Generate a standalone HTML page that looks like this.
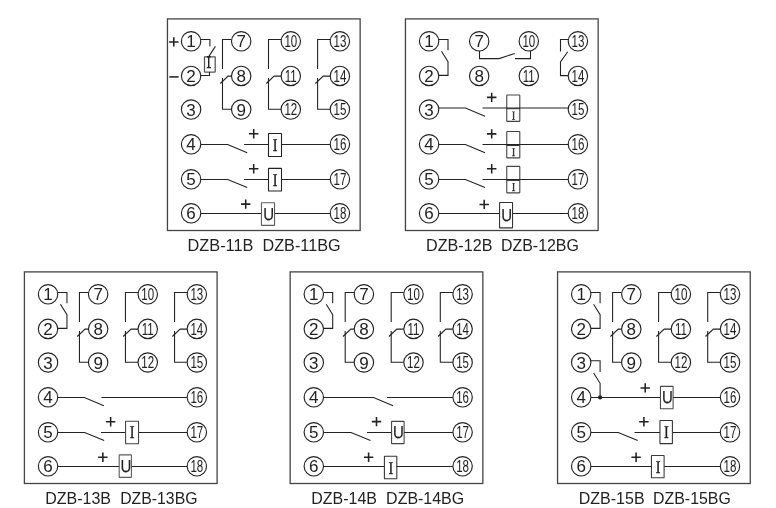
<!DOCTYPE html>
<html><head><meta charset="utf-8"><title>DZB wiring</title>
<style>
html,body{margin:0;padding:0;background:#fff;}
body{width:776px;height:508px;overflow:hidden;font-family:"Liberation Sans",sans-serif;}
svg{display:block;will-change:transform;}
svg text{font-family:"Liberation Sans",sans-serif;}
svg text.sf{font-family:"Liberation Serif",serif;}
</style></head>
<body>
<svg width="776" height="508" viewBox="0 0 776 508">
<rect width="776" height="508" fill="#fff"/>
<rect x="167.45" y="18.90" width="192.7" height="211.6" stroke="#444" stroke-width="1.3" fill="none"/>
<path d="M231.50 39.50 L222.50 39.50 L222.50 69.00" stroke="#222" stroke-width="1.08" fill="none"/>
<path d="M231.50 76.10 L228.10 76.10 L220.30 83.50" stroke="#222" stroke-width="1.08" fill="none"/>
<path d="M222.50 77.90 L222.50 109.30 L231.50 109.30" stroke="#222" stroke-width="1.08" fill="none"/>
<path d="M281.10 39.50 L268.50 39.50 L268.50 69.00" stroke="#222" stroke-width="1.08" fill="none"/>
<path d="M281.10 76.10 L274.10 76.10 L266.30 83.50" stroke="#222" stroke-width="1.08" fill="none"/>
<path d="M268.50 77.90 L268.50 109.30 L281.10 109.30" stroke="#222" stroke-width="1.08" fill="none"/>
<path d="M330.20 39.50 L317.60 39.50 L317.60 69.00" stroke="#222" stroke-width="1.08" fill="none"/>
<path d="M330.20 76.10 L323.20 76.10 L315.40 83.50" stroke="#222" stroke-width="1.08" fill="none"/>
<path d="M317.60 77.90 L317.60 109.30 L330.20 109.30" stroke="#222" stroke-width="1.08" fill="none"/>
<path d="M200.80 39.50 L209.90 39.50 L209.90 46.40" stroke="#222" stroke-width="1.08" fill="none"/>
<path d="M215.40 46.40 L208.70 56.60" stroke="#222" stroke-width="1.08" fill="none"/>
<rect x="204.50" y="56.80" width="10.70" height="15.20" rx="0.2" stroke="#555" stroke-width="1.25" fill="#fff"/>
<path d="M208.7 56.4 V67.8 M206.8 56.7 H210.7 M206.8 67.6 H211.0" stroke="#222" stroke-width="1.45" fill="none"/>
<path d="M209.50 72.00 L209.50 75.50 L200.80 75.50" stroke="#222" stroke-width="1.08" fill="none"/>
<path d="M169.10 41.90 H178.50 M173.80 37.20 V46.60" stroke="#222" stroke-width="1.55" fill="none"/>
<path d="M169.3 76.9 H178.6" stroke="#222" stroke-width="1.55"/>
<path d="M200.80 144.45 L227.70 144.45 L247.20 152.65" stroke="#222" stroke-width="1.08" fill="none"/>
<path d="M244.10 144.45 L330.20 144.45" stroke="#222" stroke-width="1.08" fill="none"/>
<rect x="268.50" y="133.50" width="13.00" height="23.00" rx="0.3" stroke="#222" stroke-width="1.08" fill="#fff"/>
<text transform="translate(275.10 150.90) rotate(0.03) scale(0.8 1)" class="sf" font-size="17.8" text-anchor="middle" fill="#222" stroke="#222" stroke-width="0.4">I</text>
<path d="M249.00 133.80 H258.40 M253.70 129.10 V138.50" stroke="#222" stroke-width="1.55" fill="none"/>
<path d="M200.80 179.42 L227.70 179.42 L247.20 187.62" stroke="#222" stroke-width="1.08" fill="none"/>
<path d="M244.10 179.42 L330.20 179.42" stroke="#222" stroke-width="1.08" fill="none"/>
<rect x="268.50" y="168.35" width="13.00" height="22.65" rx="0.3" stroke="#222" stroke-width="1.08" fill="#fff"/>
<text transform="translate(275.10 186.00) rotate(0.03) scale(0.8 1)" class="sf" font-size="17.8" text-anchor="middle" fill="#222" stroke="#222" stroke-width="0.4">I</text>
<path d="M249.00 168.70 H258.40 M253.70 164.00 V173.40" stroke="#222" stroke-width="1.55" fill="none"/>
<path d="M200.80 213.42 L330.20 213.42" stroke="#222" stroke-width="1.08" fill="none"/>
<rect x="261.45" y="202.80" width="13.10" height="22.55" rx="0.3" stroke="#5c5c5c" stroke-width="1.08" fill="#fff"/>
<text transform="translate(268.60 219.75) rotate(0.03) scale(0.86 1)" font-size="17.5" text-anchor="middle" fill="#222" stroke="#222" stroke-width="0.15">U</text>
<path d="M241.00 204.10 H250.40 M245.70 199.40 V208.80" stroke="#222" stroke-width="1.55" fill="none"/>
<circle cx="191.10" cy="41.30" r="9.7" stroke="#222" stroke-width="1.15" fill="#fff"/>
<text x="191.10" y="47.30" font-size="17" text-anchor="middle" fill="#222">1</text>
<circle cx="191.10" cy="75.90" r="9.7" stroke="#222" stroke-width="1.15" fill="#fff"/>
<text x="191.10" y="81.90" font-size="17" text-anchor="middle" fill="#222">2</text>
<circle cx="191.10" cy="109.50" r="9.7" stroke="#222" stroke-width="1.15" fill="#fff"/>
<text x="191.10" y="115.50" font-size="17" text-anchor="middle" fill="#222">3</text>
<circle cx="191.10" cy="144.30" r="9.7" stroke="#222" stroke-width="1.15" fill="#fff"/>
<text x="191.10" y="150.30" font-size="17" text-anchor="middle" fill="#222">4</text>
<circle cx="191.10" cy="179.30" r="9.7" stroke="#222" stroke-width="1.15" fill="#fff"/>
<text x="191.10" y="185.30" font-size="17" text-anchor="middle" fill="#222">5</text>
<circle cx="191.10" cy="213.30" r="9.7" stroke="#222" stroke-width="1.15" fill="#fff"/>
<text x="191.10" y="219.30" font-size="17" text-anchor="middle" fill="#222">6</text>
<circle cx="241.20" cy="41.30" r="9.7" stroke="#222" stroke-width="1.15" fill="#fff"/>
<text x="241.20" y="47.30" font-size="17" text-anchor="middle" fill="#222">7</text>
<circle cx="241.20" cy="75.90" r="9.7" stroke="#222" stroke-width="1.15" fill="#fff"/>
<text x="241.20" y="81.90" font-size="17" text-anchor="middle" fill="#222">8</text>
<circle cx="241.20" cy="109.50" r="9.7" stroke="#222" stroke-width="1.15" fill="#fff"/>
<text x="241.20" y="115.50" font-size="17" text-anchor="middle" fill="#222">9</text>
<circle cx="290.80" cy="41.30" r="9.7" stroke="#222" stroke-width="1.15" fill="#fff"/>
<text transform="translate(290.80 47.20) scale(0.70 1)" font-size="16.5" text-anchor="middle" fill="#222">10</text>
<circle cx="290.80" cy="75.90" r="9.7" stroke="#222" stroke-width="1.15" fill="#fff"/>
<text transform="translate(290.80 81.80) scale(0.70 1)" font-size="16.5" text-anchor="middle" fill="#222">11</text>
<circle cx="290.80" cy="109.50" r="9.7" stroke="#222" stroke-width="1.15" fill="#fff"/>
<text transform="translate(290.80 115.40) scale(0.70 1)" font-size="16.5" text-anchor="middle" fill="#222">12</text>
<circle cx="339.90" cy="41.30" r="9.7" stroke="#222" stroke-width="1.15" fill="#fff"/>
<text transform="translate(339.90 47.20) scale(0.70 1)" font-size="16.5" text-anchor="middle" fill="#222">13</text>
<circle cx="339.90" cy="75.90" r="9.7" stroke="#222" stroke-width="1.15" fill="#fff"/>
<text transform="translate(339.90 81.80) scale(0.70 1)" font-size="16.5" text-anchor="middle" fill="#222">14</text>
<circle cx="339.90" cy="109.50" r="9.7" stroke="#222" stroke-width="1.15" fill="#fff"/>
<text transform="translate(339.90 115.40) scale(0.70 1)" font-size="16.5" text-anchor="middle" fill="#222">15</text>
<circle cx="339.90" cy="144.30" r="9.7" stroke="#222" stroke-width="1.15" fill="#fff"/>
<text transform="translate(339.90 150.20) scale(0.70 1)" font-size="16.5" text-anchor="middle" fill="#222">16</text>
<circle cx="339.90" cy="179.30" r="9.7" stroke="#222" stroke-width="1.15" fill="#fff"/>
<text transform="translate(339.90 185.20) scale(0.70 1)" font-size="16.5" text-anchor="middle" fill="#222">17</text>
<circle cx="339.90" cy="213.30" r="9.7" stroke="#222" stroke-width="1.15" fill="#fff"/>
<text transform="translate(339.90 219.20) scale(0.70 1)" font-size="16.5" text-anchor="middle" fill="#222">18</text>
<text x="187.60" y="250.60" font-size="16.8" textLength="65.80" lengthAdjust="spacingAndGlyphs" fill="#222">DZB-11B</text>
<text x="262.50" y="250.60" font-size="16.8" textLength="78.10" lengthAdjust="spacingAndGlyphs" fill="#222">DZB-11BG</text>
<rect x="405.45" y="18.90" width="192.7" height="211.6" stroke="#444" stroke-width="1.3" fill="none"/>
<path d="M438.80 39.50 L448.00 39.50 L448.00 50.30" stroke="#222" stroke-width="1.08" fill="none"/>
<path d="M441.50 51.30 L448.00 61.60 L448.00 75.40 L438.80 75.40" stroke="#222" stroke-width="1.08" fill="none"/>
<path d="M479.50 51.00 L479.50 58.60 L499.10 58.60 L514.80 53.40" stroke="#222" stroke-width="1.08" fill="none"/>
<path d="M530.50 51.00 L530.50 58.60 L515.00 58.60" stroke="#222" stroke-width="1.08" fill="none"/>
<path d="M568.20 39.50 L560.50 39.50 L560.50 51.50" stroke="#222" stroke-width="1.08" fill="none"/>
<path d="M567.70 51.80 L560.50 61.90 L560.50 75.60 L568.20 75.60" stroke="#222" stroke-width="1.08" fill="none"/>
<path d="M438.80 107.95 L465.40 107.95 L485.00 116.15" stroke="#222" stroke-width="1.08" fill="none"/>
<rect x="506.76" y="94.95" width="13.04" height="26.45" rx="0.5" stroke="#444" stroke-width="1.1" fill="#fff"/>
<path d="M482.50 107.95 L568.20 107.95" stroke="#222" stroke-width="1.08" fill="none"/>
<path d="M506.76 108.70 H519.80" stroke="#333" stroke-width="1.05"/>
<text transform="translate(513.50 119.45) rotate(0.03) scale(0.9 1)" class="sf" font-size="12" text-anchor="middle" fill="#333" stroke="#333" stroke-width="0.32">I</text>
<path d="M487.00 97.35 H496.40 M491.70 92.65 V102.05" stroke="#222" stroke-width="1.55" fill="none"/>
<path d="M438.80 144.45 L465.40 144.45 L485.00 152.65" stroke="#222" stroke-width="1.08" fill="none"/>
<rect x="506.76" y="131.45" width="13.04" height="26.45" rx="0.5" stroke="#444" stroke-width="1.1" fill="#fff"/>
<path d="M482.50 144.45 L568.20 144.45" stroke="#222" stroke-width="1.08" fill="none"/>
<path d="M506.76 145.45 H519.80" stroke="#333" stroke-width="1.05"/>
<text transform="translate(513.50 155.95) rotate(0.03) scale(0.9 1)" class="sf" font-size="12" text-anchor="middle" fill="#333" stroke="#333" stroke-width="0.32">I</text>
<path d="M487.00 133.85 H496.40 M491.70 129.15 V138.55" stroke="#222" stroke-width="1.55" fill="none"/>
<path d="M438.80 179.42 L465.40 179.42 L485.00 187.62" stroke="#222" stroke-width="1.08" fill="none"/>
<rect x="506.76" y="166.42" width="13.04" height="26.45" rx="0.5" stroke="#444" stroke-width="1.1" fill="#fff"/>
<path d="M482.50 179.42 L568.20 179.42" stroke="#222" stroke-width="1.08" fill="none"/>
<path d="M506.76 180.42 H519.80" stroke="#333" stroke-width="1.05"/>
<text transform="translate(513.50 190.92) rotate(0.03) scale(0.9 1)" class="sf" font-size="12" text-anchor="middle" fill="#333" stroke="#333" stroke-width="0.32">I</text>
<path d="M487.00 168.82 H496.40 M491.70 164.12 V173.52" stroke="#222" stroke-width="1.55" fill="none"/>
<path d="M438.80 213.42 L568.20 213.42" stroke="#222" stroke-width="1.08" fill="none"/>
<rect x="499.57" y="202.50" width="12.98" height="25.40" rx="0.3" stroke="#333" stroke-width="1.08" fill="#fff"/>
<text transform="translate(506.75 221.05) rotate(0.03) scale(0.86 1)" font-size="17.5" text-anchor="middle" fill="#222" stroke="#222" stroke-width="0.15">U</text>
<path d="M479.50 204.40 H488.90 M484.20 199.70 V209.10" stroke="#222" stroke-width="1.55" fill="none"/>
<circle cx="429.10" cy="41.30" r="9.7" stroke="#222" stroke-width="1.15" fill="#fff"/>
<text x="429.10" y="47.30" font-size="17" text-anchor="middle" fill="#222">1</text>
<circle cx="429.10" cy="75.90" r="9.7" stroke="#222" stroke-width="1.15" fill="#fff"/>
<text x="429.10" y="81.90" font-size="17" text-anchor="middle" fill="#222">2</text>
<circle cx="429.10" cy="109.50" r="9.7" stroke="#222" stroke-width="1.15" fill="#fff"/>
<text x="429.10" y="115.50" font-size="17" text-anchor="middle" fill="#222">3</text>
<circle cx="429.10" cy="144.30" r="9.7" stroke="#222" stroke-width="1.15" fill="#fff"/>
<text x="429.10" y="150.30" font-size="17" text-anchor="middle" fill="#222">4</text>
<circle cx="429.10" cy="179.30" r="9.7" stroke="#222" stroke-width="1.15" fill="#fff"/>
<text x="429.10" y="185.30" font-size="17" text-anchor="middle" fill="#222">5</text>
<circle cx="429.10" cy="213.30" r="9.7" stroke="#222" stroke-width="1.15" fill="#fff"/>
<text x="429.10" y="219.30" font-size="17" text-anchor="middle" fill="#222">6</text>
<circle cx="479.20" cy="41.30" r="9.7" stroke="#222" stroke-width="1.15" fill="#fff"/>
<text x="479.20" y="47.30" font-size="17" text-anchor="middle" fill="#222">7</text>
<circle cx="479.20" cy="75.90" r="9.7" stroke="#222" stroke-width="1.15" fill="#fff"/>
<text x="479.20" y="81.90" font-size="17" text-anchor="middle" fill="#222">8</text>
<circle cx="528.80" cy="41.30" r="9.7" stroke="#222" stroke-width="1.15" fill="#fff"/>
<text transform="translate(528.80 47.20) scale(0.70 1)" font-size="16.5" text-anchor="middle" fill="#222">10</text>
<circle cx="528.80" cy="75.90" r="9.7" stroke="#222" stroke-width="1.15" fill="#fff"/>
<text transform="translate(528.80 81.80) scale(0.70 1)" font-size="16.5" text-anchor="middle" fill="#222">11</text>
<circle cx="577.90" cy="41.30" r="9.7" stroke="#222" stroke-width="1.15" fill="#fff"/>
<text transform="translate(577.90 47.20) scale(0.70 1)" font-size="16.5" text-anchor="middle" fill="#222">13</text>
<circle cx="577.90" cy="75.90" r="9.7" stroke="#222" stroke-width="1.15" fill="#fff"/>
<text transform="translate(577.90 81.80) scale(0.70 1)" font-size="16.5" text-anchor="middle" fill="#222">14</text>
<circle cx="577.90" cy="109.50" r="9.7" stroke="#222" stroke-width="1.15" fill="#fff"/>
<text transform="translate(577.90 115.40) scale(0.70 1)" font-size="16.5" text-anchor="middle" fill="#222">15</text>
<circle cx="577.90" cy="144.30" r="9.7" stroke="#222" stroke-width="1.15" fill="#fff"/>
<text transform="translate(577.90 150.20) scale(0.70 1)" font-size="16.5" text-anchor="middle" fill="#222">16</text>
<circle cx="577.90" cy="179.30" r="9.7" stroke="#222" stroke-width="1.15" fill="#fff"/>
<text transform="translate(577.90 185.20) scale(0.70 1)" font-size="16.5" text-anchor="middle" fill="#222">17</text>
<circle cx="577.90" cy="213.30" r="9.7" stroke="#222" stroke-width="1.15" fill="#fff"/>
<text transform="translate(577.90 219.20) scale(0.70 1)" font-size="16.5" text-anchor="middle" fill="#222">18</text>
<text x="426.10" y="250.60" font-size="16.8" textLength="66.30" lengthAdjust="spacingAndGlyphs" fill="#222">DZB-12B</text>
<text x="501.00" y="250.60" font-size="16.8" textLength="77.90" lengthAdjust="spacingAndGlyphs" fill="#222">DZB-12BG</text>
<rect x="24.40" y="271.90" width="192.7" height="211.6" stroke="#444" stroke-width="1.3" fill="none"/>
<path d="M88.45 292.50 L79.45 292.50 L79.45 322.00" stroke="#222" stroke-width="1.08" fill="none"/>
<path d="M88.45 329.10 L85.05 329.10 L77.25 336.50" stroke="#222" stroke-width="1.08" fill="none"/>
<path d="M79.45 330.90 L79.45 362.30 L88.45 362.30" stroke="#222" stroke-width="1.08" fill="none"/>
<path d="M138.05 292.50 L125.45 292.50 L125.45 322.00" stroke="#222" stroke-width="1.08" fill="none"/>
<path d="M138.05 329.10 L131.05 329.10 L123.25 336.50" stroke="#222" stroke-width="1.08" fill="none"/>
<path d="M125.45 330.90 L125.45 362.30 L138.05 362.30" stroke="#222" stroke-width="1.08" fill="none"/>
<path d="M187.15 292.50 L174.55 292.50 L174.55 322.00" stroke="#222" stroke-width="1.08" fill="none"/>
<path d="M187.15 329.10 L180.15 329.10 L172.35 336.50" stroke="#222" stroke-width="1.08" fill="none"/>
<path d="M174.55 330.90 L174.55 362.30 L187.15 362.30" stroke="#222" stroke-width="1.08" fill="none"/>
<path d="M57.75 292.50 L66.95 292.50 L66.95 303.30" stroke="#222" stroke-width="1.08" fill="none"/>
<path d="M60.45 304.30 L66.95 314.60 L66.95 328.40 L57.75 328.40" stroke="#222" stroke-width="1.08" fill="none"/>
<path d="M57.75 397.45 L84.35 397.45 L103.85 405.65" stroke="#222" stroke-width="1.08" fill="none"/>
<path d="M101.45 397.45 L187.15 397.45" stroke="#222" stroke-width="1.08" fill="none"/>
<path d="M57.75 432.42 L84.65 432.42 L104.15 440.62" stroke="#222" stroke-width="1.08" fill="none"/>
<path d="M101.05 432.42 L187.15 432.42" stroke="#222" stroke-width="1.08" fill="none"/>
<rect x="125.57" y="421.17" width="12.98" height="22.53" rx="0.3" stroke="#444" stroke-width="1.08" fill="#fff"/>
<text transform="translate(132.06 438.30) rotate(0.03) scale(0.8 1)" class="sf" font-size="17.8" text-anchor="middle" fill="#222" stroke="#222" stroke-width="0.4">I</text>
<path d="M105.95 421.70 H115.35 M110.65 417.00 V426.40" stroke="#222" stroke-width="1.55" fill="none"/>
<path d="M57.75 466.42 L187.15 466.42" stroke="#222" stroke-width="1.08" fill="none"/>
<rect x="119.20" y="454.90" width="12.20" height="22.50" rx="0.3" stroke="#5c5c5c" stroke-width="1.08" fill="#fff"/>
<text transform="translate(125.90 472.15) rotate(0.03) scale(0.86 1)" font-size="17.5" text-anchor="middle" fill="#222" stroke="#222" stroke-width="0.15">U</text>
<path d="M98.15 457.30 H107.55 M102.85 452.60 V462.00" stroke="#222" stroke-width="1.55" fill="none"/>
<circle cx="48.05" cy="294.30" r="9.7" stroke="#222" stroke-width="1.15" fill="#fff"/>
<text x="48.05" y="300.30" font-size="17" text-anchor="middle" fill="#222">1</text>
<circle cx="48.05" cy="328.90" r="9.7" stroke="#222" stroke-width="1.15" fill="#fff"/>
<text x="48.05" y="334.90" font-size="17" text-anchor="middle" fill="#222">2</text>
<circle cx="48.05" cy="362.50" r="9.7" stroke="#222" stroke-width="1.15" fill="#fff"/>
<text x="48.05" y="368.50" font-size="17" text-anchor="middle" fill="#222">3</text>
<circle cx="48.05" cy="397.30" r="9.7" stroke="#222" stroke-width="1.15" fill="#fff"/>
<text x="48.05" y="403.30" font-size="17" text-anchor="middle" fill="#222">4</text>
<circle cx="48.05" cy="432.30" r="9.7" stroke="#222" stroke-width="1.15" fill="#fff"/>
<text x="48.05" y="438.30" font-size="17" text-anchor="middle" fill="#222">5</text>
<circle cx="48.05" cy="466.30" r="9.7" stroke="#222" stroke-width="1.15" fill="#fff"/>
<text x="48.05" y="472.30" font-size="17" text-anchor="middle" fill="#222">6</text>
<circle cx="98.15" cy="294.30" r="9.7" stroke="#222" stroke-width="1.15" fill="#fff"/>
<text x="98.15" y="300.30" font-size="17" text-anchor="middle" fill="#222">7</text>
<circle cx="98.15" cy="328.90" r="9.7" stroke="#222" stroke-width="1.15" fill="#fff"/>
<text x="98.15" y="334.90" font-size="17" text-anchor="middle" fill="#222">8</text>
<circle cx="98.15" cy="362.50" r="9.7" stroke="#222" stroke-width="1.15" fill="#fff"/>
<text x="98.15" y="368.50" font-size="17" text-anchor="middle" fill="#222">9</text>
<circle cx="147.75" cy="294.30" r="9.7" stroke="#222" stroke-width="1.15" fill="#fff"/>
<text transform="translate(147.75 300.20) scale(0.70 1)" font-size="16.5" text-anchor="middle" fill="#222">10</text>
<circle cx="147.75" cy="328.90" r="9.7" stroke="#222" stroke-width="1.15" fill="#fff"/>
<text transform="translate(147.75 334.80) scale(0.70 1)" font-size="16.5" text-anchor="middle" fill="#222">11</text>
<circle cx="147.75" cy="362.50" r="9.7" stroke="#222" stroke-width="1.15" fill="#fff"/>
<text transform="translate(147.75 368.40) scale(0.70 1)" font-size="16.5" text-anchor="middle" fill="#222">12</text>
<circle cx="196.85" cy="294.30" r="9.7" stroke="#222" stroke-width="1.15" fill="#fff"/>
<text transform="translate(196.85 300.20) scale(0.70 1)" font-size="16.5" text-anchor="middle" fill="#222">13</text>
<circle cx="196.85" cy="328.90" r="9.7" stroke="#222" stroke-width="1.15" fill="#fff"/>
<text transform="translate(196.85 334.80) scale(0.70 1)" font-size="16.5" text-anchor="middle" fill="#222">14</text>
<circle cx="196.85" cy="362.50" r="9.7" stroke="#222" stroke-width="1.15" fill="#fff"/>
<text transform="translate(196.85 368.40) scale(0.70 1)" font-size="16.5" text-anchor="middle" fill="#222">15</text>
<circle cx="196.85" cy="397.30" r="9.7" stroke="#222" stroke-width="1.15" fill="#fff"/>
<text transform="translate(196.85 403.20) scale(0.70 1)" font-size="16.5" text-anchor="middle" fill="#222">16</text>
<circle cx="196.85" cy="432.30" r="9.7" stroke="#222" stroke-width="1.15" fill="#fff"/>
<text transform="translate(196.85 438.20) scale(0.70 1)" font-size="16.5" text-anchor="middle" fill="#222">17</text>
<circle cx="196.85" cy="466.30" r="9.7" stroke="#222" stroke-width="1.15" fill="#fff"/>
<text transform="translate(196.85 472.20) scale(0.70 1)" font-size="16.5" text-anchor="middle" fill="#222">18</text>
<text x="45.20" y="503.60" font-size="16.8" textLength="65.80" lengthAdjust="spacingAndGlyphs" fill="#222">DZB-13B</text>
<text x="120.20" y="503.60" font-size="16.8" textLength="77.30" lengthAdjust="spacingAndGlyphs" fill="#222">DZB-13BG</text>
<rect x="290.15" y="271.90" width="192.7" height="211.6" stroke="#444" stroke-width="1.3" fill="none"/>
<path d="M354.20 292.50 L345.20 292.50 L345.20 322.00" stroke="#222" stroke-width="1.08" fill="none"/>
<path d="M354.20 329.10 L350.80 329.10 L343.00 336.50" stroke="#222" stroke-width="1.08" fill="none"/>
<path d="M345.20 330.90 L345.20 362.30 L354.20 362.30" stroke="#222" stroke-width="1.08" fill="none"/>
<path d="M403.80 292.50 L391.20 292.50 L391.20 322.00" stroke="#222" stroke-width="1.08" fill="none"/>
<path d="M403.80 329.10 L396.80 329.10 L389.00 336.50" stroke="#222" stroke-width="1.08" fill="none"/>
<path d="M391.20 330.90 L391.20 362.30 L403.80 362.30" stroke="#222" stroke-width="1.08" fill="none"/>
<path d="M452.90 292.50 L440.30 292.50 L440.30 322.00" stroke="#222" stroke-width="1.08" fill="none"/>
<path d="M452.90 329.10 L445.90 329.10 L438.10 336.50" stroke="#222" stroke-width="1.08" fill="none"/>
<path d="M440.30 330.90 L440.30 362.30 L452.90 362.30" stroke="#222" stroke-width="1.08" fill="none"/>
<path d="M323.50 292.50 L332.70 292.50 L332.70 303.30" stroke="#222" stroke-width="1.08" fill="none"/>
<path d="M326.20 304.30 L332.70 314.60 L332.70 328.40 L323.50 328.40" stroke="#222" stroke-width="1.08" fill="none"/>
<path d="M323.50 397.45 L373.60 397.45 L393.10 405.65" stroke="#222" stroke-width="1.08" fill="none"/>
<path d="M387.00 397.45 L452.90 397.45" stroke="#222" stroke-width="1.08" fill="none"/>
<path d="M323.50 432.42 L351.00 432.42 L370.50 440.62" stroke="#222" stroke-width="1.08" fill="none"/>
<path d="M367.00 432.42 L452.90 432.42" stroke="#222" stroke-width="1.08" fill="none"/>
<rect x="391.57" y="421.35" width="12.53" height="22.25" rx="0.3" stroke="#444" stroke-width="1.08" fill="#fff"/>
<text transform="translate(398.50 438.30) rotate(0.03) scale(0.86 1)" font-size="17.5" text-anchor="middle" fill="#222" stroke="#222" stroke-width="0.15">U</text>
<path d="M371.80 421.60 H381.20 M376.50 416.90 V426.30" stroke="#222" stroke-width="1.55" fill="none"/>
<path d="M323.50 466.42 L452.90 466.42" stroke="#222" stroke-width="1.08" fill="none"/>
<rect x="384.40" y="456.17" width="12.40" height="22.53" rx="0.3" stroke="#333" stroke-width="1.08" fill="#fff"/>
<text transform="translate(390.90 473.60) rotate(0.03) scale(0.8 1)" class="sf" font-size="17.8" text-anchor="middle" fill="#222" stroke="#222" stroke-width="0.4">I</text>
<path d="M363.90 457.30 H373.30 M368.60 452.60 V462.00" stroke="#222" stroke-width="1.55" fill="none"/>
<circle cx="313.80" cy="294.30" r="9.7" stroke="#222" stroke-width="1.15" fill="#fff"/>
<text x="313.80" y="300.30" font-size="17" text-anchor="middle" fill="#222">1</text>
<circle cx="313.80" cy="328.90" r="9.7" stroke="#222" stroke-width="1.15" fill="#fff"/>
<text x="313.80" y="334.90" font-size="17" text-anchor="middle" fill="#222">2</text>
<circle cx="313.80" cy="362.50" r="9.7" stroke="#222" stroke-width="1.15" fill="#fff"/>
<text x="313.80" y="368.50" font-size="17" text-anchor="middle" fill="#222">3</text>
<circle cx="313.80" cy="397.30" r="9.7" stroke="#222" stroke-width="1.15" fill="#fff"/>
<text x="313.80" y="403.30" font-size="17" text-anchor="middle" fill="#222">4</text>
<circle cx="313.80" cy="432.30" r="9.7" stroke="#222" stroke-width="1.15" fill="#fff"/>
<text x="313.80" y="438.30" font-size="17" text-anchor="middle" fill="#222">5</text>
<circle cx="313.80" cy="466.30" r="9.7" stroke="#222" stroke-width="1.15" fill="#fff"/>
<text x="313.80" y="472.30" font-size="17" text-anchor="middle" fill="#222">6</text>
<circle cx="363.90" cy="294.30" r="9.7" stroke="#222" stroke-width="1.15" fill="#fff"/>
<text x="363.90" y="300.30" font-size="17" text-anchor="middle" fill="#222">7</text>
<circle cx="363.90" cy="328.90" r="9.7" stroke="#222" stroke-width="1.15" fill="#fff"/>
<text x="363.90" y="334.90" font-size="17" text-anchor="middle" fill="#222">8</text>
<circle cx="363.90" cy="362.50" r="9.7" stroke="#222" stroke-width="1.15" fill="#fff"/>
<text x="363.90" y="368.50" font-size="17" text-anchor="middle" fill="#222">9</text>
<circle cx="413.50" cy="294.30" r="9.7" stroke="#222" stroke-width="1.15" fill="#fff"/>
<text transform="translate(413.50 300.20) scale(0.70 1)" font-size="16.5" text-anchor="middle" fill="#222">10</text>
<circle cx="413.50" cy="328.90" r="9.7" stroke="#222" stroke-width="1.15" fill="#fff"/>
<text transform="translate(413.50 334.80) scale(0.70 1)" font-size="16.5" text-anchor="middle" fill="#222">11</text>
<circle cx="413.50" cy="362.50" r="9.7" stroke="#222" stroke-width="1.15" fill="#fff"/>
<text transform="translate(413.50 368.40) scale(0.70 1)" font-size="16.5" text-anchor="middle" fill="#222">12</text>
<circle cx="462.60" cy="294.30" r="9.7" stroke="#222" stroke-width="1.15" fill="#fff"/>
<text transform="translate(462.60 300.20) scale(0.70 1)" font-size="16.5" text-anchor="middle" fill="#222">13</text>
<circle cx="462.60" cy="328.90" r="9.7" stroke="#222" stroke-width="1.15" fill="#fff"/>
<text transform="translate(462.60 334.80) scale(0.70 1)" font-size="16.5" text-anchor="middle" fill="#222">14</text>
<circle cx="462.60" cy="362.50" r="9.7" stroke="#222" stroke-width="1.15" fill="#fff"/>
<text transform="translate(462.60 368.40) scale(0.70 1)" font-size="16.5" text-anchor="middle" fill="#222">15</text>
<circle cx="462.60" cy="397.30" r="9.7" stroke="#222" stroke-width="1.15" fill="#fff"/>
<text transform="translate(462.60 403.20) scale(0.70 1)" font-size="16.5" text-anchor="middle" fill="#222">16</text>
<circle cx="462.60" cy="432.30" r="9.7" stroke="#222" stroke-width="1.15" fill="#fff"/>
<text transform="translate(462.60 438.20) scale(0.70 1)" font-size="16.5" text-anchor="middle" fill="#222">17</text>
<circle cx="462.60" cy="466.30" r="9.7" stroke="#222" stroke-width="1.15" fill="#fff"/>
<text transform="translate(462.60 472.20) scale(0.70 1)" font-size="16.5" text-anchor="middle" fill="#222">18</text>
<text x="311.20" y="503.60" font-size="16.8" textLength="65.80" lengthAdjust="spacingAndGlyphs" fill="#222">DZB-14B</text>
<text x="386.10" y="503.60" font-size="16.8" textLength="78.10" lengthAdjust="spacingAndGlyphs" fill="#222">DZB-14BG</text>
<rect x="557.55" y="271.90" width="192.7" height="211.6" stroke="#444" stroke-width="1.3" fill="none"/>
<path d="M621.60 292.50 L612.60 292.50 L612.60 322.00" stroke="#222" stroke-width="1.08" fill="none"/>
<path d="M621.60 329.10 L618.20 329.10 L610.40 336.50" stroke="#222" stroke-width="1.08" fill="none"/>
<path d="M612.60 330.90 L612.60 362.30 L621.60 362.30" stroke="#222" stroke-width="1.08" fill="none"/>
<path d="M671.20 292.50 L658.60 292.50 L658.60 322.00" stroke="#222" stroke-width="1.08" fill="none"/>
<path d="M671.20 329.10 L664.20 329.10 L656.40 336.50" stroke="#222" stroke-width="1.08" fill="none"/>
<path d="M658.60 330.90 L658.60 362.30 L671.20 362.30" stroke="#222" stroke-width="1.08" fill="none"/>
<path d="M720.30 292.50 L707.70 292.50 L707.70 322.00" stroke="#222" stroke-width="1.08" fill="none"/>
<path d="M720.30 329.10 L713.30 329.10 L705.50 336.50" stroke="#222" stroke-width="1.08" fill="none"/>
<path d="M707.70 330.90 L707.70 362.30 L720.30 362.30" stroke="#222" stroke-width="1.08" fill="none"/>
<path d="M590.90 292.50 L600.10 292.50 L600.10 303.30" stroke="#222" stroke-width="1.08" fill="none"/>
<path d="M593.60 304.30 L600.10 314.60 L600.10 328.40 L590.90 328.40" stroke="#222" stroke-width="1.08" fill="none"/>
<path d="M590.90 360.70 L600.10 360.70 L600.10 372.00" stroke="#222" stroke-width="1.08" fill="none"/>
<path d="M593.60 373.00 L600.10 383.30 L600.10 397.45" stroke="#222" stroke-width="1.08" fill="none"/>
<circle cx="600.10" cy="397.45" r="2.1" fill="#222"/>
<path d="M590.90 397.45 L720.30 397.45" stroke="#222" stroke-width="1.08" fill="none"/>
<rect x="660.45" y="386.35" width="12.65" height="22.35" rx="0.3" stroke="#4a4a4a" stroke-width="1.08" fill="#fff"/>
<text transform="translate(667.50 403.30) rotate(0.03) scale(0.86 1)" font-size="17.5" text-anchor="middle" fill="#222" stroke="#222" stroke-width="0.15">U</text>
<path d="M640.50 387.90 H649.90 M645.20 383.20 V392.60" stroke="#222" stroke-width="1.55" fill="none"/>
<path d="M590.90 432.42 L618.20 432.42 L637.70 440.62" stroke="#222" stroke-width="1.08" fill="none"/>
<path d="M634.60 432.42 L720.30 432.42" stroke="#222" stroke-width="1.08" fill="none"/>
<rect x="659.95" y="420.50" width="12.45" height="23.10" rx="0.3" stroke="#333" stroke-width="1.08" fill="#fff"/>
<text transform="translate(666.25 438.10) rotate(0.03) scale(0.8 1)" class="sf" font-size="17.8" text-anchor="middle" fill="#222" stroke="#222" stroke-width="0.4">I</text>
<path d="M639.20 421.80 H648.60 M643.90 417.10 V426.50" stroke="#222" stroke-width="1.55" fill="none"/>
<path d="M590.90 466.42 L720.30 466.42" stroke="#222" stroke-width="1.08" fill="none"/>
<rect x="651.45" y="455.50" width="12.65" height="22.30" rx="0.3" stroke="#3a3a3a" stroke-width="1.08" fill="#fff"/>
<text transform="translate(658.06 472.70) rotate(0.03) scale(0.8 1)" class="sf" font-size="17.8" text-anchor="middle" fill="#222" stroke="#222" stroke-width="0.4">I</text>
<path d="M631.40 457.30 H640.80 M636.10 452.60 V462.00" stroke="#222" stroke-width="1.55" fill="none"/>
<circle cx="581.20" cy="294.30" r="9.7" stroke="#222" stroke-width="1.15" fill="#fff"/>
<text x="581.20" y="300.30" font-size="17" text-anchor="middle" fill="#222">1</text>
<circle cx="581.20" cy="328.90" r="9.7" stroke="#222" stroke-width="1.15" fill="#fff"/>
<text x="581.20" y="334.90" font-size="17" text-anchor="middle" fill="#222">2</text>
<circle cx="581.20" cy="362.50" r="9.7" stroke="#222" stroke-width="1.15" fill="#fff"/>
<text x="581.20" y="368.50" font-size="17" text-anchor="middle" fill="#222">3</text>
<circle cx="581.20" cy="397.30" r="9.7" stroke="#222" stroke-width="1.15" fill="#fff"/>
<text x="581.20" y="403.30" font-size="17" text-anchor="middle" fill="#222">4</text>
<circle cx="581.20" cy="432.30" r="9.7" stroke="#222" stroke-width="1.15" fill="#fff"/>
<text x="581.20" y="438.30" font-size="17" text-anchor="middle" fill="#222">5</text>
<circle cx="581.20" cy="466.30" r="9.7" stroke="#222" stroke-width="1.15" fill="#fff"/>
<text x="581.20" y="472.30" font-size="17" text-anchor="middle" fill="#222">6</text>
<circle cx="631.30" cy="294.30" r="9.7" stroke="#222" stroke-width="1.15" fill="#fff"/>
<text x="631.30" y="300.30" font-size="17" text-anchor="middle" fill="#222">7</text>
<circle cx="631.30" cy="328.90" r="9.7" stroke="#222" stroke-width="1.15" fill="#fff"/>
<text x="631.30" y="334.90" font-size="17" text-anchor="middle" fill="#222">8</text>
<circle cx="631.30" cy="362.50" r="9.7" stroke="#222" stroke-width="1.15" fill="#fff"/>
<text x="631.30" y="368.50" font-size="17" text-anchor="middle" fill="#222">9</text>
<circle cx="680.90" cy="294.30" r="9.7" stroke="#222" stroke-width="1.15" fill="#fff"/>
<text transform="translate(680.90 300.20) scale(0.70 1)" font-size="16.5" text-anchor="middle" fill="#222">10</text>
<circle cx="680.90" cy="328.90" r="9.7" stroke="#222" stroke-width="1.15" fill="#fff"/>
<text transform="translate(680.90 334.80) scale(0.70 1)" font-size="16.5" text-anchor="middle" fill="#222">11</text>
<circle cx="680.90" cy="362.50" r="9.7" stroke="#222" stroke-width="1.15" fill="#fff"/>
<text transform="translate(680.90 368.40) scale(0.70 1)" font-size="16.5" text-anchor="middle" fill="#222">12</text>
<circle cx="730.00" cy="294.30" r="9.7" stroke="#222" stroke-width="1.15" fill="#fff"/>
<text transform="translate(730.00 300.20) scale(0.70 1)" font-size="16.5" text-anchor="middle" fill="#222">13</text>
<circle cx="730.00" cy="328.90" r="9.7" stroke="#222" stroke-width="1.15" fill="#fff"/>
<text transform="translate(730.00 334.80) scale(0.70 1)" font-size="16.5" text-anchor="middle" fill="#222">14</text>
<circle cx="730.00" cy="362.50" r="9.7" stroke="#222" stroke-width="1.15" fill="#fff"/>
<text transform="translate(730.00 368.40) scale(0.70 1)" font-size="16.5" text-anchor="middle" fill="#222">15</text>
<circle cx="730.00" cy="397.30" r="9.7" stroke="#222" stroke-width="1.15" fill="#fff"/>
<text transform="translate(730.00 403.20) scale(0.70 1)" font-size="16.5" text-anchor="middle" fill="#222">16</text>
<circle cx="730.00" cy="432.30" r="9.7" stroke="#222" stroke-width="1.15" fill="#fff"/>
<text transform="translate(730.00 438.20) scale(0.70 1)" font-size="16.5" text-anchor="middle" fill="#222">17</text>
<circle cx="730.00" cy="466.30" r="9.7" stroke="#222" stroke-width="1.15" fill="#fff"/>
<text transform="translate(730.00 472.20) scale(0.70 1)" font-size="16.5" text-anchor="middle" fill="#222">18</text>
<text x="578.80" y="503.60" font-size="16.8" textLength="65.80" lengthAdjust="spacingAndGlyphs" fill="#222">DZB-15B</text>
<text x="653.10" y="503.60" font-size="16.8" textLength="77.70" lengthAdjust="spacingAndGlyphs" fill="#222">DZB-15BG</text>
</svg>
</body></html>
